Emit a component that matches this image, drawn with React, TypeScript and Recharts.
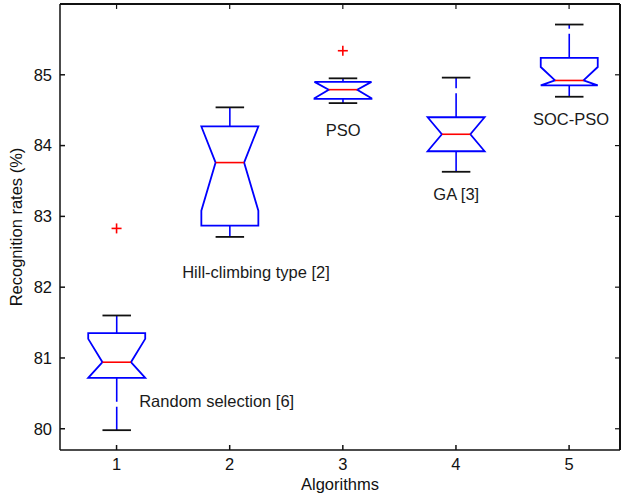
import { Bar, ComposedChart, ReferenceLine, Scatter, XAxis, YAxis } from "recharts";

// boxplot statistics (recognition rate, %)
const algorithms = [1, 2, 3, 4, 5];
const whiskerLow = [79.98, 82.71, 84.6, 83.63, 84.69];
const q1 = [80.72, 82.87, 84.66, 83.92, 84.85];
const medians = [80.94, 83.76, 84.79, 84.16, 84.92];
const q3 = [81.35, 84.27, 84.9, 84.4, 85.24];
const whiskerHigh = [81.6, 84.54, 84.95, 84.96, 85.71];
const notchLow = [80.61, 83.08, 84.67, 83.92, 84.73];
const notchHigh = [81.27, 84.44, 84.91, 84.4, 85.11];

const outlierX = [1, 3];
const outlierY = [82.83, 85.34];

const noteText = ["Random selection [6]", "Hill-climbing type [2]", "PSO", "GA [3]", "SOC-PSO"];
const noteX = [1.2, 1.58, 2.85, 3.8, 4.68];
const noteY = [80.39, 82.21, 84.22, 83.31, 84.38];

const xTicks = [1, 2, 3, 4, 5];
const yTicks = [80, 81, 82, 83, 84, 85];
const X_DOMAIN: [number, number] = [0.5, 5.45];
const Y_DOMAIN: [number, number] = [79.7, 86];

const boxes = algorithms.map((pos, i) => ({
  pos,
  lo: whiskerLow[i],
  q1: q1[i],
  med: medians[i],
  q3: q3[i],
  hi: whiskerHigh[i],
  nLo: notchLow[i],
  nHi: notchHigh[i],
}));
const outliers = outlierX.map((pos, i) => ({ pos, v: outlierY[i] }));
const notes = noteText.map((text, i) => ({ pos: noteX[i], v: noteY[i], text }));

const FONT = "'Liberation Sans', Arial, Helvetica, sans-serif";
const TICK = { fontSize: 16.5, fill: "#111", fontFamily: FONT };
const AXIS_COLOR = "#111";
const BLUE = "#0000ff";
const RED = "#ff0000";
const BOX_W = 57; // px, half an x unit like matlab's default
// inward tick length for the top / right frame, in axis units (~5px)
const TICK_X = 0.044;
const TICK_Y = 0.07;

function BoxShape(props: any) {
  const { x, y, width, height, payload: d } = props;
  // range bar spans [lo, hi]; map values back through the bar's own pixel extent
  const toY = (v: number) => y + ((d.hi - v) / (d.hi - d.lo)) * height;
  const cx = x + width / 2;
  const hw = BOX_W / 2;
  const iw = hw / 2;
  const L = cx - hw;
  const R = cx + hw;
  const nh = Math.min(d.nHi, d.q3);
  const nl = Math.max(d.nLo, d.q1);
  const pts = [
    [L, toY(d.q3)],
    [R, toY(d.q3)],
    [R, toY(nh)],
    [cx + iw, toY(d.med)],
    [R, toY(nl)],
    [R, toY(d.q1)],
    [L, toY(d.q1)],
    [L, toY(nl)],
    [cx - iw, toY(d.med)],
    [L, toY(nh)],
  ]
    .map((p) => p.join(","))
    .join(" ");
  return (
    <g>
      <line x1={cx} x2={cx} y1={toY(d.q3)} y2={toY(d.hi)} stroke={BLUE} strokeWidth={1.6} strokeDasharray="24 5" />
      <line x1={cx} x2={cx} y1={toY(d.q1)} y2={toY(d.lo)} stroke={BLUE} strokeWidth={1.6} strokeDasharray="24 5" />
      <line x1={cx - iw} x2={cx + iw} y1={toY(d.hi)} y2={toY(d.hi)} stroke="#111" strokeWidth={1.8} />
      <line x1={cx - iw} x2={cx + iw} y1={toY(d.lo)} y2={toY(d.lo)} stroke="#111" strokeWidth={1.8} />
      <polygon points={pts} fill="none" stroke={BLUE} strokeWidth={1.8} />
      <line x1={cx - iw} x2={cx + iw} y1={toY(d.med)} y2={toY(d.med)} stroke={RED} strokeWidth={1.6} />
    </g>
  );
}

function PlusShape(props: any) {
  const { cx, cy } = props;
  return (
    <g stroke={RED} strokeWidth={1.6}>
      <line x1={cx - 5} x2={cx + 5} y1={cy} y2={cy} />
      <line x1={cx} x2={cx} y1={cy - 5} y2={cy + 5} />
    </g>
  );
}

function NoteShape(props: any) {
  const { cx, cy, payload } = props;
  return (
    <text x={cx} y={cy} dy="0.36em" fontSize={16.5} fontFamily={FONT} fill="#1a1a1a">
      {payload.text}
    </text>
  );
}

export default function App() {
  const [x0, x1] = X_DOMAIN;
  const [y0, y1] = Y_DOMAIN;
  return (
    <div style={{ position: "absolute", left: 0, top: 0, background: "#fff" }}>
      <ComposedChart
        width={621}
        height={499}
        data={boxes}
        margin={{ top: 4, right: 1, bottom: 0, left: 0 }}
        style={{ overflow: "visible" }}
      >
        <XAxis
          dataKey="pos"
          type="number"
          domain={X_DOMAIN}
          ticks={xTicks}
          allowDataOverflow
          height={49}
          tickSize={-5}
          tickMargin={13}
          stroke={AXIS_COLOR}
          strokeWidth={1.5}
          tick={TICK}
          label={{ value: "Algorithms", position: "insideBottom", offset: 9, style: { ...TICK, textAnchor: "middle" } }}
        />
        <YAxis
          type="number"
          domain={Y_DOMAIN}
          ticks={yTicks}
          allowDataOverflow
          width={60}
          tickSize={-5}
          tickMargin={13}
          stroke={AXIS_COLOR}
          strokeWidth={1.5}
          tick={TICK}
          label={{
            value: "Recognition rates (%)",
            angle: -90,
            position: "center",
            dx: -14,
            style: { ...TICK, textAnchor: "middle" },
          }}
        />
        {/* matlab "box on": top and right edges drawn as full segments, plus inward ticks */}
        <ReferenceLine
          segment={[
            { x: x0, y: y1 },
            { x: x1, y: y1 },
          ]}
          stroke={AXIS_COLOR}
          strokeWidth={2}
          ifOverflow="visible"
        />
        <ReferenceLine
          segment={[
            { x: x1, y: y0 },
            { x: x1, y: y1 },
          ]}
          stroke={AXIS_COLOR}
          strokeWidth={2}
          ifOverflow="visible"
        />
        {xTicks.map((t) => (
          <ReferenceLine
            key={`tx${t}`}
            segment={[
              { x: t, y: y1 },
              { x: t, y: y1 - TICK_Y },
            ]}
            stroke={AXIS_COLOR}
            strokeWidth={1.2}
            ifOverflow="visible"
          />
        ))}
        {yTicks.map((t) => (
          <ReferenceLine
            key={`ty${t}`}
            segment={[
              { x: x1, y: t },
              { x: x1 - TICK_X, y: t },
            ]}
            stroke={AXIS_COLOR}
            strokeWidth={1.2}
            ifOverflow="visible"
          />
        ))}
        <Bar dataKey={(d: any) => [d.lo, d.hi]} barSize={57} shape={<BoxShape />} isAnimationActive={false} />
        <Scatter data={outliers} dataKey="v" shape={<PlusShape />} isAnimationActive={false} />
        <Scatter data={notes} dataKey="v" shape={<NoteShape />} isAnimationActive={false} />
      </ComposedChart>
    </div>
  );
}
